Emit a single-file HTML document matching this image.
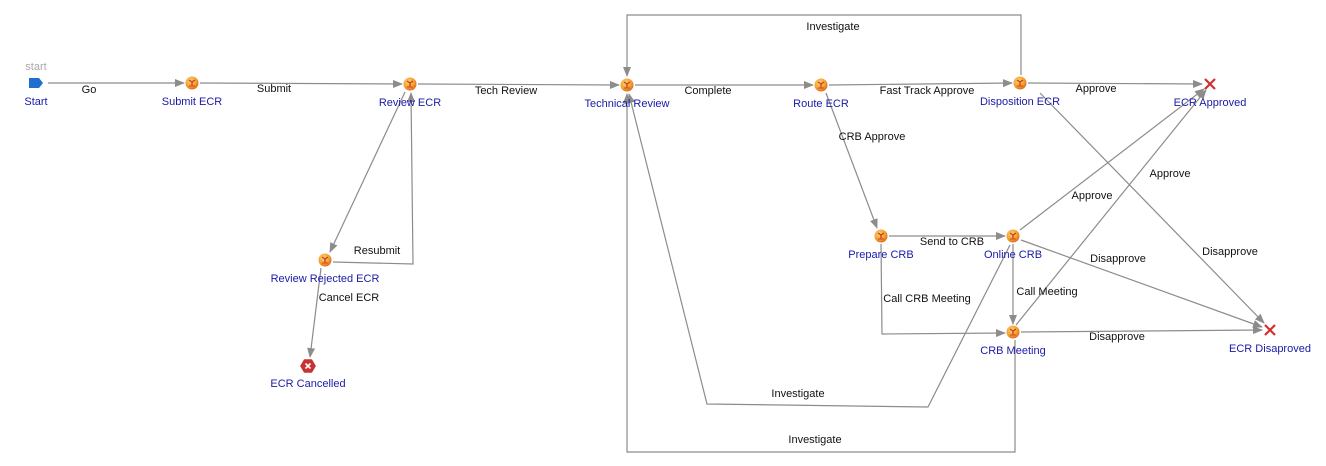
<!DOCTYPE html>
<html><head><meta charset="utf-8"><style>
html,body{margin:0;padding:0;background:#fff;}
svg{display:block;font-family:"Liberation Sans",Arial,sans-serif;}
.e{fill:none;stroke:#8c8c8c;stroke-width:1.2;}
.l{font-size:11px;fill:#111;text-anchor:middle;}
.n{font-size:11px;fill:#1a1aa6;text-anchor:middle;}
</style></head><body>
<svg width="1326" height="466" viewBox="0 0 1326 466">
<defs>
<marker id="a" markerWidth="10" markerHeight="8" refX="9" refY="4" orient="auto" markerUnits="userSpaceOnUse">
<path d="M0,0 L10,4 L0,8 z" fill="#8c8c8c"/></marker>
<radialGradient id="g" cx="40%" cy="35%" r="70%"><stop offset="0" stop-color="#ffd27a"/><stop offset="0.6" stop-color="#f5a030"/><stop offset="1" stop-color="#d8641a"/></radialGradient>
<g id="t"><circle r="6.5" fill="url(#g)"/><path d="M-3,-3 L0,-1 L3,-3 M0,-1 L0,3" stroke="#c2401a" stroke-width="1.3" fill="none"/><path d="M-3,3 L3,3" stroke="#e05a20" stroke-width="1.3"/></g>
</defs>
<!-- edges -->
<path class="e" d="M48,83 L184,83" marker-end="url(#a)"/>
<path class="e" d="M200,83 L402,84" marker-end="url(#a)"/>
<path class="e" d="M418,84 L619,85" marker-end="url(#a)"/>
<path class="e" d="M635,85 L813,85" marker-end="url(#a)"/>
<path class="e" d="M829,85 L1012,83" marker-end="url(#a)"/>
<path class="e" d="M1028,83 L1202,84" marker-end="url(#a)"/>
<path class="e" d="M1021,75 L1021,15 L627,15 L627,76" marker-end="url(#a)"/>
<path class="e" d="M405,92 L330,252" marker-end="url(#a)"/>
<path class="e" d="M333,262 L413,264 L411,93" marker-end="url(#a)"/>
<path class="e" d="M321,268 L310,357" marker-end="url(#a)"/>
<path class="e" d="M826,93 L877,228" marker-end="url(#a)"/>
<path class="e" d="M889,236 L1005,236" marker-end="url(#a)"/>
<path class="e" d="M881,244 L882,334 L1005,333" marker-end="url(#a)"/>
<path class="e" d="M1013,244 L1013,324" marker-end="url(#a)"/>
<path class="e" d="M1020,230 L1204,89" marker-end="url(#a)"/>
<path class="e" d="M1016,325 L1206,90" marker-end="url(#a)"/>
<path class="e" d="M1021,240 L1262,327" marker-end="url(#a)"/>
<path class="e" d="M1021,332 L1262,330" marker-end="url(#a)"/>
<path class="e" d="M1040,93 L1264,323" marker-end="url(#a)"/>
<path class="e" d="M1010,245 L928,407 L707,404 L629,94" marker-end="url(#a)"/>
<path class="e" d="M1015,340 L1015,452 L627,452 L627,94" marker-end="url(#a)"/>
<!-- edge labels -->
<text class="l" x="89" y="93">Go</text>
<text class="l" x="274" y="92">Submit</text>
<text class="l" x="506" y="94">Tech Review</text>
<text class="l" x="708" y="94">Complete</text>
<text class="l" x="927" y="94">Fast Track Approve</text>
<text class="l" x="1096" y="92">Approve</text>
<text class="l" x="833" y="30">Investigate</text>
<text class="l" x="377" y="254">Resubmit</text>
<text class="l" x="349" y="301">Cancel ECR</text>
<text class="l" x="872" y="140">CRB Approve</text>
<text class="l" x="952" y="245">Send to CRB</text>
<text class="l" x="927" y="302">Call CRB Meeting</text>
<text class="l" x="1047" y="295">Call Meeting</text>
<text class="l" x="1092" y="199">Approve</text>
<text class="l" x="1170" y="177">Approve</text>
<text class="l" x="1118" y="262">Disapprove</text>
<text class="l" x="1117" y="340">Disapprove</text>
<text class="l" x="1230" y="255">Disapprove</text>
<text class="l" x="798" y="397">Investigate</text>
<text class="l" x="815" y="443">Investigate</text>
<!-- nodes -->
<text x="36" y="70" font-size="11" fill="#aaa" text-anchor="middle">start</text>
<path d="M29,78 L39,78 L43,83 L39,88 L29,88 z" fill="#1f6fd0"/>
<text class="n" x="36" y="105">Start</text>
<use href="#t" x="192" y="83"/><text class="n" x="192" y="105">Submit ECR</text>
<use href="#t" x="410" y="84"/><text class="n" x="410" y="106">Review ECR</text>
<use href="#t" x="627" y="85"/><text class="n" x="627" y="107">Technical Review</text>
<use href="#t" x="821" y="85"/><text class="n" x="821" y="107">Route ECR</text>
<use href="#t" x="1020" y="83"/><text class="n" x="1020" y="105">Disposition ECR</text>
<path d="M1205,79 L1215,89 M1215,79 L1205,89" stroke="#d03030" stroke-width="2.2"/>
<text class="n" x="1210" y="106">ECR Approved</text>
<use href="#t" x="881" y="236"/><text class="n" x="881" y="258">Prepare CRB</text>
<use href="#t" x="1013" y="236"/><text class="n" x="1013" y="258">Online CRB</text>
<use href="#t" x="325" y="260"/><text class="n" x="325" y="282">Review Rejected ECR</text>
<path d="M301,366 L304.5,360 L311.5,360 L315,366 L311.5,372 L304.5,372 z" fill="#c83232" stroke="#c83232" stroke-width="1.5" stroke-linejoin="round"/>
<path d="M305.5,363.5 L310.5,368.5 M310.5,363.5 L305.5,368.5" stroke="#fff" stroke-width="1.6"/>
<text class="n" x="308" y="387">ECR Cancelled</text>
<use href="#t" x="1013" y="332"/><text class="n" x="1013" y="354">CRB Meeting</text>
<path d="M1265,325 L1275,335 M1275,325 L1265,335" stroke="#d03030" stroke-width="2.2"/>
<text class="n" x="1270" y="352">ECR Disaproved</text>
</svg>
</body></html>
